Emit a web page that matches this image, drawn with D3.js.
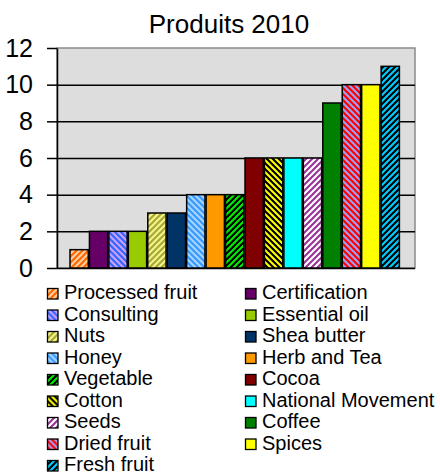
<!DOCTYPE html>
<html>
<head>
<meta charset="utf-8">
<style>
body { margin: 0; background: #fff; }
svg { display: block; font-family: "Liberation Sans", Arial, sans-serif; }
.axis path { stroke: #000; }
.axis line { stroke: #000; }
.grid line { stroke: #000; }
.grid path { display: none; }
</style>
</head>
<body>
<svg width="440" height="475"></svg>
<script src="https://cdn.jsdelivr.net/npm/d3@7"></script>
<script>

var categories = ["Processed fruit", "Certification", "Consulting", "Essential oil", "Nuts",
                  "Shea butter", "Honey", "Herb and Tea", "Vegetable", "Cocoa", "Cotton",
                  "National Movement", "Seeds", "Coffee", "Dried fruit", "Spices", "Fresh fruit"];
var values = [1, 2, 2, 2, 3, 3, 4, 4, 4, 6, 6, 6, 6, 9, 10, 10, 11];
var yTicks = [0, 2, 4, 6, 8, 10, 12];

// base colour, stripe colour (null = plain), stripe direction
var fills = [
  ["#ff6600", "#ffd0a0", "/"],
  ["#660066", null],
  ["#3366ff", "#c9a0ff", "\\"],
  ["#99cc00", null],
  ["#a8a830", "#f4f490", "/"],
  ["#003366", null],
  ["#3399ff", "#a8d4ff", "\\"],
  ["#ff9900", null],
  ["#00ee00", "#000000", "/"],
  ["#800000", null],
  ["#ffff00", "#000000", "\\"],
  ["#00ffff", null],
  ["#993399", "#ffffff", "/"],
  ["#008000", null],
  ["#ff0000", "#a0a0f0", "\\"],
  ["#ffff00", null],
  ["#00ccff", "#000000", "/"]
];

var svg = d3.select("svg"),
    plot = {left: 57, top: 48, right: 415, bottom: 268};

// patterns
var defs = svg.append("defs");
fills.forEach(function(f, i) {
  if (!f[1]) return;
  var p = defs.append("pattern")
      .attr("id", "pat" + i)
      .attr("patternUnits", "userSpaceOnUse")
      .attr("width", 6).attr("height", 6);
  p.append("rect").attr("width", 6).attr("height", 6).attr("fill", f[0]);
  var d = f[2] == "/" ? "M-1,1 l2,-2 M0,6 l6,-6 M5,7 l2,-2"
                      : "M-1,5 l2,2 M0,0 l6,6 M5,-1 l2,2";
  p.append("path").attr("d", d).attr("stroke", f[1]).attr("stroke-width", 2.1);
});
function fillOf(i) { return fills[i][1] ? "url(#pat" + i + ")" : fills[i][0]; }

var x = d3.scaleBand()
    .domain(categories)
    .range([70, 399.4])
    .paddingInner(0.06)
    .paddingOuter(0);

var y = d3.scaleLinear()
    .domain([0, 12])
    .range([plot.bottom, plot.top]);

// title
svg.append("text")
    .attr("x", 229).attr("y", 33)
    .attr("text-anchor", "middle")
    .style("font-size", "26px")
    .text("Produits 2010");

// plot area
svg.append("rect")
    .attr("x", plot.left).attr("y", plot.top)
    .attr("width", plot.right - plot.left).attr("height", plot.bottom - plot.top)
    .attr("fill", "#dddddd")
    .attr("stroke", "#8a8a8a").attr("stroke-width", 1.5);

svg.append("g")
    .attr("class", "grid")
    .attr("transform", "translate(" + plot.left + ",0)")
    .call(d3.axisLeft(y).tickValues(yTicks.slice(0, -1)).tickSize(-(plot.right - plot.left)).tickFormat(""))
    .selectAll("line").attr("stroke-width", 1.5);

// bars
svg.append("g").selectAll("rect")
    .data(values)
    .enter().append("rect")
      .attr("x", function(d, i) { return x(categories[i]); })
      .attr("y", function(d) { return y(d); })
      .attr("width", x.bandwidth())
      .attr("height", function(d) { return y(0) - y(d); })
      .attr("fill", function(d, i) { return fillOf(i); })
      .attr("stroke", "#000")
      .attr("stroke-width", 1.5);

// y axis
var yAxis = svg.append("g")
    .attr("class", "axis")
    .attr("transform", "translate(" + plot.left + ",0)")
    .call(d3.axisLeft(y).tickValues(yTicks).tickSize(10).tickPadding(14).tickSizeOuter(0));
yAxis.selectAll("line, path").attr("stroke-width", 1.5);
yAxis.selectAll("text")
    .attr("fill", "#000")
    .style("font-size", "25px")
    .style("font-family", "'Liberation Sans', Arial, sans-serif");

// legend
var legend = svg.append("g").selectAll(".legend")
    .data(categories)
    .enter().append("g")
      .attr("class", "legend")
      .attr("transform", function(d, i) {
        return "translate(" + (i % 2 ? 245 : 47) + "," + (299 + Math.floor(i / 2) * 21.5) + ")";
      });

legend.append("rect")
    .attr("x", 0.5).attr("y", -10.5)
    .attr("width", 10.5).attr("height", 10.5)
    .attr("fill", function(d, i) { return fillOf(i); })
    .attr("stroke", "#000").attr("stroke-width", 1.3);

legend.append("text")
    .attr("x", 17).attr("y", 0)
    .style("font-size", "20px")
    .text(function(d) { return d; });

</script>
</body>
</html>
